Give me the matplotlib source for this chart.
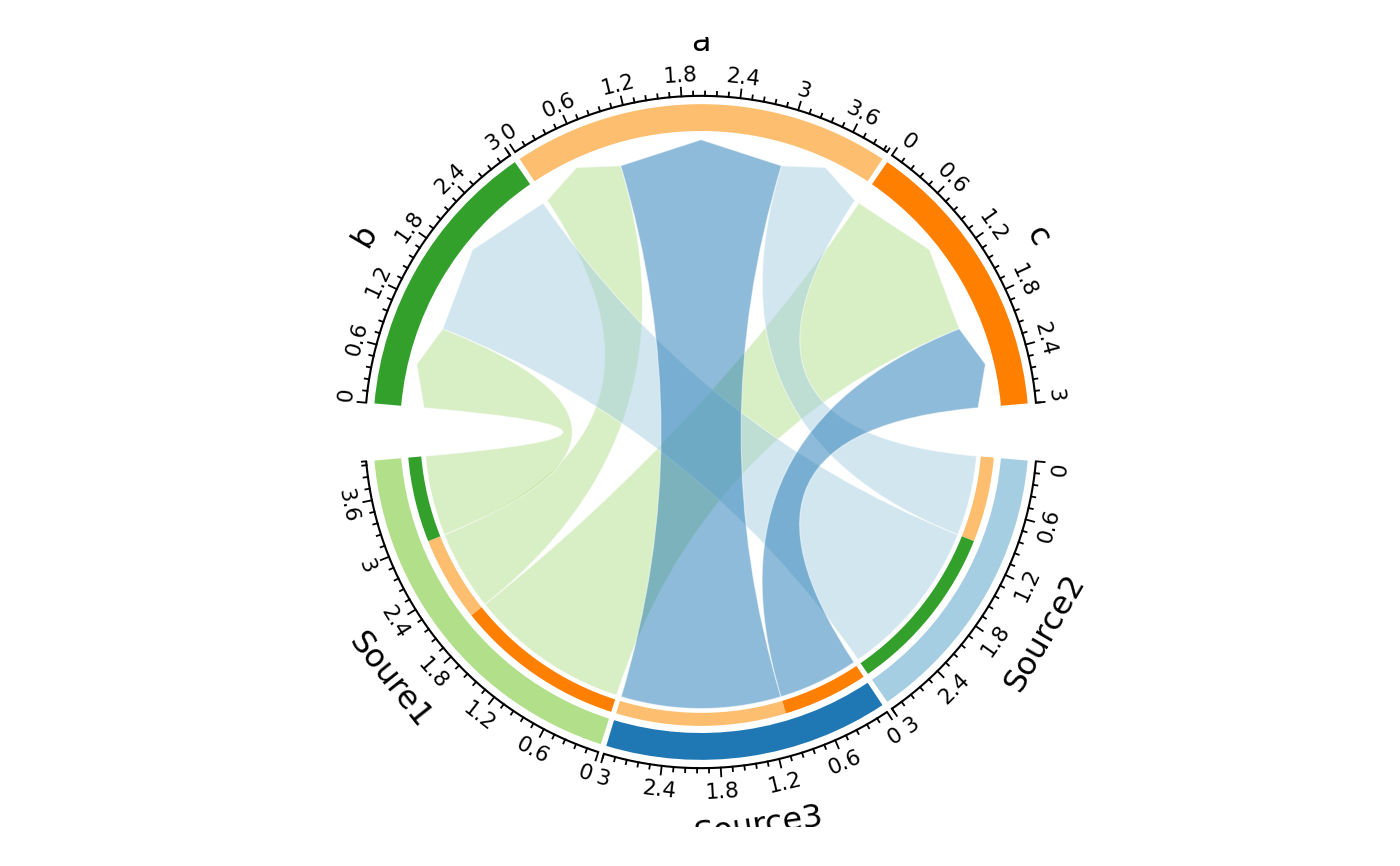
import numpy as np
import matplotlib
matplotlib.use("Agg")
import matplotlib.pyplot as plt
from matplotlib.path import Path
from matplotlib.patches import PathPatch, Wedge

# ------------------------------------------------------------------------------------------
# data: flow matrix, rows are the sources, columns the targets
sources = ["Soure1", "Source2", "Source3"]
targets = ["a", "b", "c"]
flows = [
    [1, 1, 2],  # Soure1  -> a, b, c
    [1, 2, 0],  # Source2 -> a, b, c
    [2, 0, 1],  # Source3 -> a, b, c
]
source_colors = ["#b2df8a", "#a6cee3", "#1f78b4"]
target_colors = ["#fdbf6f", "#33a02c", "#ff7f00"]

# clockwise order round the circle, starting on the left
sector_order = ["b", "a", "c", "Source2", "Source3", "Soure1"]
major_step = 0.6
minor_step = 0.12

# ------------------------------------------------------------------------------------------
# layout
flows = np.array(flows, dtype=float)
sizes = {}
colors = {}
for i, s in enumerate(sources):
    sizes[s] = flows[i].sum()
    colors[s] = source_colors[i]
for j, t in enumerate(targets):
    sizes[t] = flows[:, j].sum()
    colors[t] = target_colors[j]

small_gap = 1.0
big_gap = 10.0
gaps = [small_gap, small_gap, big_gap, small_gap, small_gap, big_gap]
deg_per_unit = (360.0 - sum(gaps)) / sum(sizes[s] for s in sector_order)

start = {}
crrt = 180.0 - big_gap / 2.0
for name, gap in zip(sector_order, gaps):
    start[name] = crrt
    crrt = crrt - sizes[name] * deg_per_unit - gap


def ang(name, value):
    return start[name] - value * deg_per_unit


def xy(theta, r):
    t = np.radians(theta)
    return r * np.cos(t), r * np.sin(t)


def label_rotation(theta):
    # tangent direction, turned so that the text is never upside down
    rot = (theta - 90.0 + 180.0) % 360.0 - 180.0
    flipped = False
    if rot > 90.0:
        rot -= 180.0
        flipped = True
    elif rot <= -90.0:
        rot += 180.0
        flipped = True
    return rot, flipped


# radii (axes goes from -1 to 1, i.e. 395 px)
r_track_out, r_track_in = 0.830, 0.762
r_band_out, r_band_in = 0.744, 0.711
r_src_link = 0.700
r_tgt_end, r_tgt_mid = 0.704, 0.740
r_axis = 0.851
r_ticklabel = 0.902
r_name = 0.985
px = 1.0 / 395.0

fig = plt.figure(figsize=(14, 8.66), dpi=100)
ax = fig.add_axes([0.2186, 0.0450, 0.5643, 0.9123])
ax.set_xlim(-1, 1)
ax.set_ylim(-1, 1)
ax.set_aspect("equal")
ax.axis("off")

# ------------------------------------------------------------------------------------------
# links: on a source they are stacked in reverse target order, on a target in reverse
# source order (as met clockwise)
tgt_stack = [t for t in sector_order if t in targets][::-1]
src_stack = [s for s in sector_order if s in sources][::-1]

src_pos = {}
for i, s in enumerate(sources):
    pos = 0.0
    for t in tgt_stack:
        v = flows[i, targets.index(t)]
        src_pos[(s, t)] = (pos, pos + v)
        pos += v
tgt_pos = {}
for j, t in enumerate(targets):
    pos = 0.0
    for s in src_stack:
        v = flows[sources.index(s), j]
        tgt_pos[(s, t)] = (pos, pos + v)
        pos += v

for i, s in enumerate(sources):
    for j, t in enumerate(targets):
        if flows[i, j] <= 0:
            continue
        s0, s1 = [ang(s, v) for v in src_pos[(s, t)]]
        t0, t1 = [ang(t, v) for v in tgt_pos[(s, t)]]
        verts, codes = [], []
        for k, a in enumerate(np.linspace(s0, s1, 40)):
            verts.append(xy(a, r_src_link))
            codes.append(Path.MOVETO if k == 0 else Path.LINETO)
        verts += [(0, 0), xy(t0, r_tgt_end)]
        codes += [Path.CURVE3, Path.CURVE3]
        verts += [xy((t0 + t1) / 2.0, r_tgt_mid), xy(t1, r_tgt_end)]
        codes += [Path.LINETO, Path.LINETO]
        verts += [(0, 0), xy(s0, r_src_link), (0, 0)]
        codes += [Path.CURVE3, Path.CURVE3, Path.CLOSEPOLY]
        patch = PathPatch(Path(verts, codes), facecolor=source_colors[i], alpha=0.5,
                          edgecolor="white", linewidth=0.8, zorder=2)
        ax.add_patch(patch)

        # thin band on the source showing where the flow goes
        ax.add_patch(Wedge((0, 0), r_band_out, s1, s0, width=r_band_out - r_band_in,
                           facecolor=target_colors[j], edgecolor="none", zorder=3))

# ------------------------------------------------------------------------------------------
# sector tracks, axis ticks and names
for name in sector_order:
    a0 = ang(name, 0.0)
    a1 = ang(name, sizes[name])
    ax.add_patch(Wedge((0, 0), r_track_out, a1, a0, width=r_track_out - r_track_in,
                       facecolor=colors[name], edgecolor="none", zorder=3))

    th = np.linspace(a0, a1, 200)
    ax.plot(*xy(th, r_axis), color="k", lw=1.5, solid_capstyle="butt", zorder=4)

    n_minor = int(np.floor(sizes[name] / minor_step + 1e-6))
    for k in range(n_minor + 1):
        v = k * minor_step
        major = (k % 5 == 0)
        length = 0.022 if major else 0.011
        a = ang(name, v)
        ax.plot(*zip(xy(a, r_axis), xy(a, r_axis + length)), color="k", lw=1.3, zorder=4)
        if major:
            # labels on the sector ends are kept inside the sector
            a_lab = a
            if k == 0:
                a_lab = a - 1.0
            elif abs(v - sizes[name]) < 1e-6:
                a_lab = a + 1.0
            rot, flipped = label_rotation(a_lab)
            r_lab = r_ticklabel + (4.5 * px if flipped else 0.0)
            ax.text(*xy(a_lab, r_lab), f"{round(v, 1):g}", fontsize=15.5,
                    rotation=rot, rotation_mode="anchor", ha="center", va="center")
    # tick at the end of the sector
    ax.plot(*zip(xy(a1, r_axis), xy(a1, r_axis + 0.011)), color="k", lw=1.3, zorder=4)

    mid = (a0 + a1) / 2.0
    rot, flipped = label_rotation(mid)
    r_lab = r_name + (9.0 * px if flipped else 0.0)
    ax.text(*xy(mid, r_lab), name, fontsize=23, rotation=rot,
            rotation_mode="anchor", ha="center", va="center", clip_on=True)

plt.savefig("out.png", dpi=100)
